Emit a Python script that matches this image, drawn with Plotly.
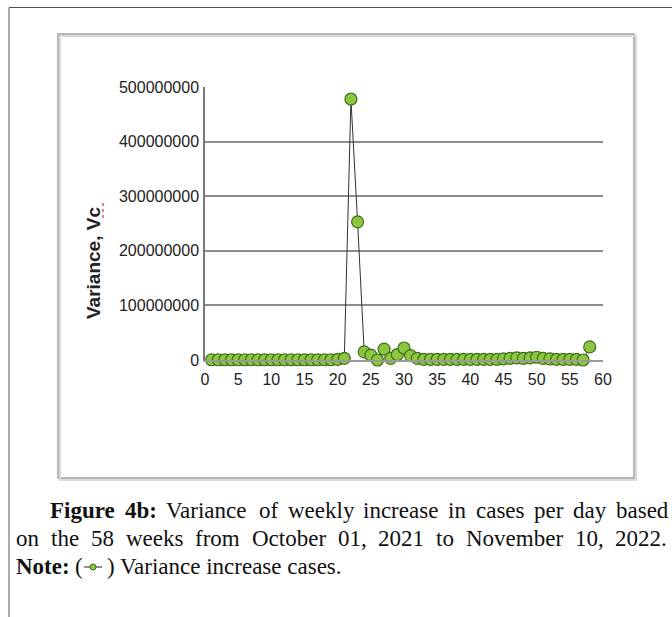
import plotly.graph_objects as go

weeks = list(range(1, 59))
variance = [
    5e5, 5e5, 5e5, 5e5, 5e5, 5e5, 5e5, 5e5, 5e5, 5e5,
    5e5, 5e5, 5e5, 5e5, 5e5, 5e5, 5e5, 5e5, 5e5, 1e6,
    3e6, 478e6, 253e6, 15e6, 9e6, 0, 20e6, 3e6, 10e6, 22e6,
    8e6, 3e6, 1e6, 1e6, 1e6, 1e6, 1e6, 1e6, 1e6, 1e6,
    1e6, 1e6, 1e6, 1e6, 2e6, 3e6, 4e6, 3e6, 4e6, 5e6,
    3e6, 2e6, 1e6, 1e6, 1e6, 1e6, 0, 24e6,
]
x_ticks = [0, 5, 10, 15, 20, 25, 30, 35, 40, 45, 50, 55, 60]
y_ticks = [0, 100000000, 200000000, 300000000, 400000000, 500000000]
y_title = "Variance, Vc"
caption_line1 = [("Figure", True), ("4b:", True), ("Variance", False), ("of", False),
                 ("weekly", False), ("increase", False), ("in", False), ("cases", False),
                 ("per", False), ("day", False), ("based", False)]
caption_line2 = ["on", "the", "58", "weeks", "from", "October", "01,", "2021", "to",
                 "November", "10,", "2022."]
note_label = "Note:"
note_text = "Variance increase cases."

W, H = 672, 617
L, R, T, B = 205, 603, 87, 360

def px(x):
    return (x - L) / (R - L)

def py(y):
    return (B - y) / (B - T)

# Times (Liberation Serif) advance widths, per 1000 em
REG = {' ': 250, '(': 333, ')': 333, ',': 250, '.': 250, ':': 278,
       'a': 444, 'b': 500, 'c': 444, 'd': 500, 'e': 444, 'f': 333, 'g': 500, 'h': 500,
       'i': 278, 'k': 500, 'l': 278, 'm': 778, 'n': 500, 'o': 500, 'p': 500, 'r': 333,
       's': 389, 't': 278, 'u': 500, 'v': 500, 'w': 722, 'y': 500,
       'N': 722, 'O': 722, 'V': 722}
BOLD = {' ': 250, ':': 333, 'F': 611, 'i': 278, 'g': 500, 'u': 556, 'r': 444, 'e': 444,
        'b': 556, 'N': 722, 'o': 500, 't': 333}

def tw(s, size, bold=False):
    tab = BOLD if bold else REG
    return sum(tab.get(c, 500) for c in s) * size / 1000.0

FS = 23
SERIF = "Liberation Serif, Times New Roman, serif"

fig = go.Figure()
fig.add_trace(go.Scatter(
    x=weeks, y=variance, mode="lines+markers",
    line=dict(color="#333333", width=1),
    marker=dict(size=12, color="#8cc63f", line=dict(color="#3d6e1f", width=1.2)),
    cliponaxis=False, showlegend=False,
))

shapes = [
    dict(type="line", xref="paper", yref="paper", x0=px(9), x1=px(672), y0=py(7.5), y1=py(7.5),
         line=dict(color="#555555", width=1)),
    dict(type="line", xref="paper", yref="paper", x0=px(9), x1=px(9), y0=py(7.5), y1=py(617),
         line=dict(color="#555555", width=1)),
    dict(type="rect", xref="paper", yref="paper", x0=px(60), x1=px(636), y0=py(480), y1=py(36),
         line=dict(color="#dadada", width=2)),
    dict(type="rect", xref="paper", yref="paper", x0=px(58), x1=px(634), y0=py(478), y1=py(34),
         line=dict(color="#a0a0a0", width=1.5), fillcolor="white", layer="below"),
    # red spell-check underline under "Vc"
    dict(type="line", xref="paper", yref="paper", x0=px(103), x1=px(103), y0=py(203), y1=py(219),
         line=dict(color="#cc3333", width=1.2, dash="dot")),
]

annotations = [
    dict(text="<b>" + y_title + "</b>", xref="paper", yref="paper", x=px(93), y=py(263),
         xanchor="center", yanchor="middle", textangle=-90, showarrow=False,
         font=dict(family="Liberation Sans, Arial", size=19, color="#222222")),
]

def add_word(txt, x, y, bold=False):
    annotations.append(dict(
        text=("<b>%s</b>" % txt) if bold else txt, xref="paper", yref="paper",
        x=px(x), y=py(y), xanchor="left", yanchor="middle", showarrow=False,
        font=dict(family=SERIF, size=FS, color="#111111")))

def justify(words, x0, x1, y):
    widths = [tw(w, FS, b) for w, b in words]
    gap = (x1 - x0 - sum(widths)) / (len(words) - 1)
    x = x0
    for (w, b), wd in zip(words, widths):
        add_word(w, x, y, b)
        x += wd + gap

justify(caption_line1, 48, 666, 510)
justify([(w, False) for w in caption_line2], 14, 665, 538)

# line 3: Note: ( -o- ) Variance increase cases.
y3 = 566
x = 14
add_word(note_label, x, y3, True)
x += tw(note_label, FS, True) + tw(" ", FS)
add_word("(", x, y3)
x += tw("(", FS) + 3
sym_w = 18
shapes.append(dict(type="line", xref="paper", yref="paper", x0=px(x), x1=px(x + sym_w),
                   y0=py(y3 + 1), y1=py(y3 + 1), line=dict(color="#444444", width=1.2)))
shapes.append(dict(type="circle", xref="paper", yref="paper",
                   x0=px(x + sym_w / 2 - 3), x1=px(x + sym_w / 2 + 3),
                   y0=py(y3 + 4), y1=py(y3 - 2),
                   line=dict(color="#3d6e1f", width=1), fillcolor="#8cc63f"))
x += sym_w + 3
add_word(")", x, y3)
x += tw(")", FS) + tw(" ", FS)
add_word(note_text, x, y3)

fig.update_layout(
    width=W, height=H,
    margin=dict(l=L, r=W - R, t=T, b=H - B, pad=0),
    paper_bgcolor="white", plot_bgcolor="white",
    shapes=shapes, annotations=annotations,
    xaxis=dict(range=[0, 60], tickvals=x_ticks, showgrid=False, zeroline=False,
               showline=True, linecolor="#999999", linewidth=1.5, ticks="", ticklen=0,
               ticklabelstandoff=4,
               tickfont=dict(family="Liberation Sans, Arial", size=16, color="#222222")),
    yaxis=dict(range=[0, 500000000], tickvals=y_ticks, tickformat="d", showgrid=True,
               gridcolor="#8c8c8c", gridwidth=1.5, zeroline=False,
               showline=True, linecolor="#777777", linewidth=1.5, ticks="", ticklen=0,
               ticklabelstandoff=1,
               tickfont=dict(family="Liberation Sans, Arial", size=16, color="#222222")),
)

fig.write_html("out.html")
